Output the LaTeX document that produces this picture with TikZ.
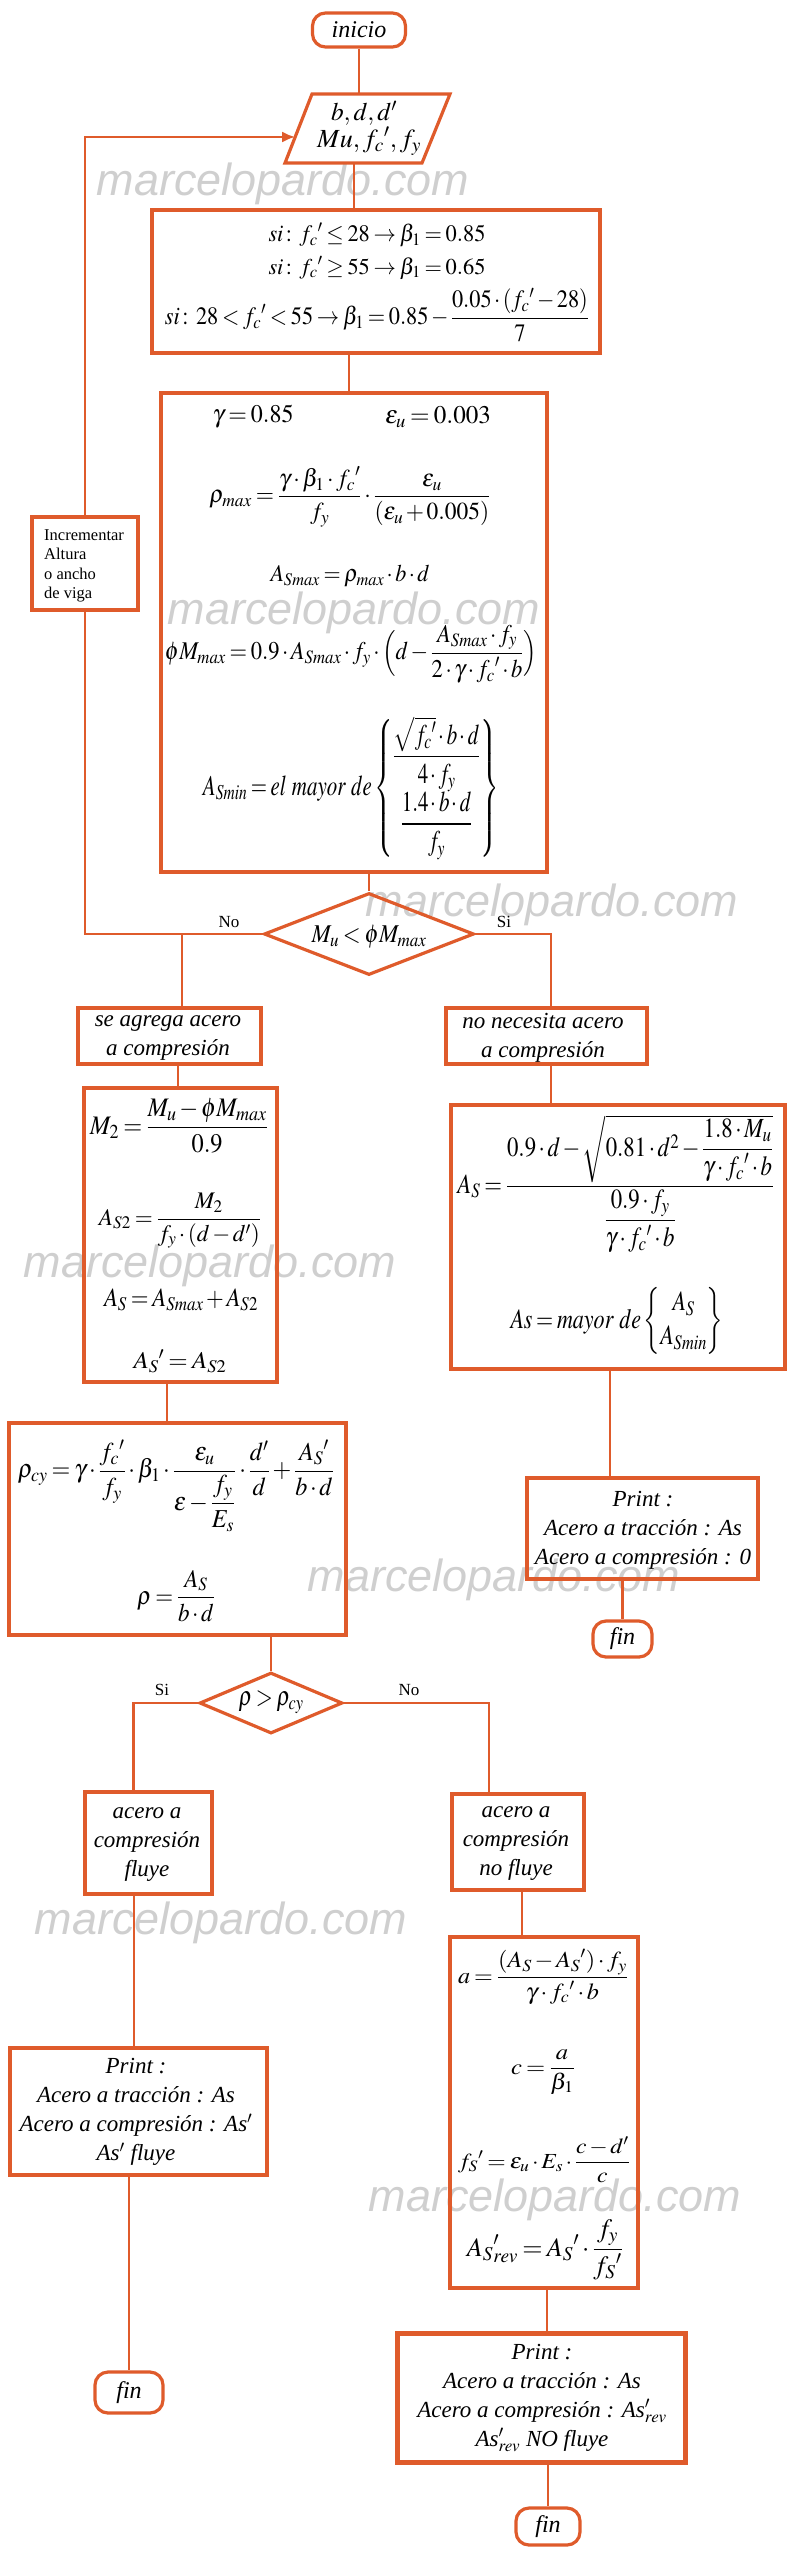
\documentclass[tikz,border=0pt]{standalone}
\usepackage{amsmath}
\usepackage{mathptmx}
\usepackage[no-math]{fontspec}
\setmainfont{Liberation Serif}
\newfontfamily\wmfont{Liberation Sans}
\usetikzlibrary{shapes.geometric,arrows.meta,calc}
\definecolor{orng}{RGB}{223,91,43}
\newcommand\fcp{{f_c}'}
\newcommand\Asp{{A_S}'}
\newcommand\fsp{{f_S}'}
\newcommand\fitf[3]{\resizebox*{#1pt}{#2pt}{#3}}
\tikzset{
  blk/.style={draw=orng, line width=3.2pt, rectangle, inner sep=0pt},
  term/.style={draw=orng, line width=3.2pt, rectangle, rounded corners=13pt, inner sep=0pt, font=\fontsize{24}{28}\selectfont\itshape},
  conn/.style={draw=orng, line width=2.7pt},
  cond/.style={diamond, draw=orng, line width=3.2pt, inner sep=1pt},
  pshape/.style={draw=orng, line width=3.2pt, line join=miter},
  fm/.style={inner sep=0pt},
  tx/.style={inner sep=0pt, align=center, font=\fontsize{23}{29}\selectfont\itshape},
  inct/.style={inner sep=0pt, align=left, font=\fontsize{16.5}{19.5}\selectfont},
  lbl/.style={inner sep=0pt, font=\fontsize{17}{20}\selectfont},
  wm/.style={inner sep=0pt, text=black!19, font=\wmfont\itshape\fontsize{45}{50}\selectfont},
}
\begin{document}
\begin{tikzpicture}[x=1pt,y=-1pt]
\useasboundingbox (0,0) rectangle (794,2560);
\fontsize{23}{28}\selectfont
\thinmuskip=2mu \medmuskip=2mu plus 1mu \thickmuskip=3mu plus 1mu
% watermarks
\node[wm] (wm1) at (283,184) {marcelopardo.com};
\node[wm] (wm2) at (354,613) {marcelopardo.com};
\node[wm] (wm3) at (552,905) {marcelopardo.com};
\node[wm] (wm4) at (210,1266) {marcelopardo.com};
\node[wm] (wm5) at (494,1580) {marcelopardo.com};
\node[wm] (wm6) at (221,1923) {marcelopardo.com};
\node[wm] (wm7) at (555,2200) {marcelopardo.com};
% start and input
\node[term, minimum width=93pt, minimum height=34pt] (start) at (359,30) {inicio};
\coordinate (pTL) at (312,94);
\coordinate (pTR) at (450,94);
\coordinate (pBR) at (422,163);
\coordinate (pBL) at (285,163);
\draw[pshape] (pTL) -- (pTR) -- (pBR) -- (pBL) -- cycle;
\node[fm, minimum width=100pt, minimum height=69pt] (par) at (367,128.5) {};
\node[fm] (parA) at (364,113) {\resizebox{66pt}{!}{$b,d,d'$}};
\node[fm] (parB) at (369,141) {\resizebox{104pt}{!}{$Mu,\fcp,f_y$}};
% beta box
\node[blk, minimum width=448pt, minimum height=143pt] (b2) at (376,281.5) {};
\node[fm] (b2a) at (377,235) {\fitf{217}{24}{$si\colon\fcp\le28\rightarrow\beta_1=0.85$}};
\node[fm] (b2b) at (377,268) {\fitf{217}{23}{$si\colon\fcp\ge55\rightarrow\beta_1=0.65$}};
\node[fm] (b2c) at (377,315) {\fitf{424}{54}{$\displaystyle si\colon28<\fcp<55\rightarrow\beta_1=0.85-\frac{0.05\cdot(\fcp-28)}{7}$}};
% main box
\node[blk, minimum width=386pt, minimum height=479pt] (b3) at (354,632.5) {};
\node[fm] (g1) at (253,417) {\fitf{81}{23}{$\gamma=0.85$}};
\node[fm] (e1) at (438,417) {\fitf{106}{21}{$\varepsilon_u=0.003$}};
\node[fm] (rmax) at (350,497) {\fitf{281}{60}{$\displaystyle\rho_{max}=\frac{\gamma\cdot\beta_1\cdot\fcp}{f_y}\cdot\frac{\varepsilon_u}{(\varepsilon_u+0.005)}$}};
\node[fm] (asmax) at (350,576) {\fitf{159}{22}{$A_{Smax}=\rho_{max}\cdot b\cdot d$}};
\node[fm] (pmmax) at (351,654) {\fitf{372}{58}{$\displaystyle\phi M_{max}=0.9\cdot A_{Smax}\cdot f_y\cdot\Bigl(d-\frac{A_{Smax}\cdot f_y}{2\cdot\gamma\cdot\fcp\cdot b}\Bigr)$}};
\node[fm] (asmin) at (351,788) {\fitf{296}{143}{$\displaystyle A_{Smin}=el\ mayor\ de\left\{\begin{matrix}\dfrac{\sqrt{\fcp}\cdot b\cdot d}{4\cdot f_y}\\[6pt]\dfrac{1.4\cdot b\cdot d}{f_y}\end{matrix}\right\}$}};
% decision 1
\node[cond, minimum width=210pt, minimum height=82pt] (d1) at (369,934) {};
\node[fm] (d1t) at (369,937) {\fitf{115}{23}{$M_u<\phi M_{max}$}};
\node[lbl] (no1) at (229,922) {No};
\node[lbl] (si1) at (504,922) {Si};
% increment box
\node[blk, minimum width=106pt, minimum height=93pt] (inc) at (85,563.5) {};
\node[inct, anchor=west] (inctx) at (44,566) {Incrementar\\Altura\\o ancho\\de viga};
% branch boxes
\node[blk, minimum width=183pt, minimum height=56pt] (sa) at (169.5,1036) {};
\node[tx] (sat) at (168,1038) {se agrega acero\\a compresión};
\node[blk, minimum width=201pt, minimum height=56pt] (nn) at (546.5,1036) {};
\node[tx] (nnt) at (543,1038) {no necesita acero\\a compresión};
% M2 box
\node[blk, minimum width=193pt, minimum height=294pt] (m2b) at (180.5,1235) {};
\node[fm] (m2f) at (179,1126) {\fitf{178}{55}{$\displaystyle M_2=\frac{M_u-\phi M_{max}}{0.9}$}};
\node[fm] (as2f) at (180,1221) {\fitf{162}{55}{$\displaystyle A_{S2}=\frac{M_2}{f_y\cdot(d-d')}$}};
\node[fm] (asf) at (181,1300) {\fitf{154}{22}{$A_S=A_{Smax}+A_{S2}$}};
\node[fm] (aspf) at (180,1361) {\fitf{93}{23}{$\Asp=A_{S2}$}};
% As box
\node[blk, minimum width=334pt, minimum height=264pt] (asb) at (618,1237) {};
\node[fm] (asr) at (616,1184) {\fitf{317}{138}{$\displaystyle A_S=\frac{0.9\cdot d-\sqrt{0.81\cdot d^2-\dfrac{1.8\cdot M_u}{\gamma\cdot\fcp\cdot b}}}{\dfrac{0.9\cdot f_y}{\gamma\cdot\fcp\cdot b}}$}};
\node[fm] (asm) at (617,1321) {\fitf{213}{68}{$\displaystyle As=mayor\ de\left\{\begin{matrix}A_S\\A_{Smin}\end{matrix}\right\}$}};
% rho box
\node[blk, minimum width=337pt, minimum height=212pt] (rhob) at (177.5,1529) {};
\node[fm] (rcy) at (176,1486) {\fitf{316}{92}{$\displaystyle\rho_{cy}=\gamma\cdot\frac{\fcp}{f_y}\cdot\beta_1\cdot\frac{\varepsilon_u}{\varepsilon-\dfrac{f_y}{E_s}}\cdot\frac{d'}{d}+\frac{\Asp}{b\cdot d}$}};
\node[fm] (rr) at (176,1596) {\fitf{78}{52}{$\displaystyle\rho=\frac{A_S}{b\cdot d}$}};
% decision 2
\node[cond, minimum width=143pt, minimum height=61pt] (d2) at (271,1703) {};
\node[fm] (d2t) at (271,1702) {\fitf{65}{23}{$\rho>\rho_{cy}$}};
\node[lbl] (si2) at (162,1690) {Si};
\node[lbl] (no2) at (409,1690) {No};
% flow boxes
\node[blk, minimum width=127pt, minimum height=102pt] (fl) at (148.5,1843) {};
\node[tx] (flt) at (147,1845) {acero a\\compresión\\fluye};
\node[blk, minimum width=132pt, minimum height=96pt] (nf) at (518,1842) {};
\node[tx] (nft) at (516,1844) {acero a\\compresión\\no fluye};
% print right
\node[blk, minimum width=231pt, minimum height=101pt] (prr) at (642.5,1528.5) {};
\node[tx] (prrt) at (643,1530) {Print :\\Acero a tracción : As\\Acero a compresión : 0};
\node[term, minimum width=59pt, minimum height=36pt] (finr) at (622.5,1639) {fin};
% print left
\node[blk, minimum width=257pt, minimum height=127pt] (pl) at (138.5,2111.5) {};
\node[tx] (plt) at (136,2112) {Print :\\Acero a tracción : As\\Acero a compresión : As$'$\\As$'$ fluye};
\node[term, minimum width=68pt, minimum height=41pt] (finl) at (129,2392.5) {fin};
% formula box
\node[blk, minimum width=188pt, minimum height=351pt] (fb) at (544,2112.5) {};
\node[fm] (f1) at (543,1977) {\fitf{170}{55}{$\displaystyle a=\frac{(A_S-\Asp)\cdot f_y}{\gamma\cdot\fcp\cdot b}$}};
\node[fm] (f2) at (543,2072) {\fitf{64}{45}{$\displaystyle c=\frac{a}{\beta_1}$}};
\node[fm] (f3) at (544,2160) {\fitf{172}{46}{$\displaystyle \fsp=\varepsilon_u\cdot E_s\cdot\frac{c-d'}{c}$}};
\node[fm] (f4) at (545,2250) {\fitf{156}{60}{$\displaystyle {A_S}'_{rev}=\Asp\cdot\frac{f_y}{\fsp}$}};
% print bottom right
\node[blk, line width=5pt, minimum width=288pt, minimum height=129pt] (pr) at (541,2397.5) {};
\node[tx] (prt) at (542,2398) {Print :\\Acero a tracción : As\\Acero a compresión : As$'_{rev}$\\As$'_{rev}$ NO fluye};
\node[term, minimum width=64pt, minimum height=37pt] (finR) at (548,2526.5) {fin};
% connectors
\coordinate (parin) at ($(pBL)!0.377!(pTL)$);
\draw[conn] (start.south) -- (start.south |- par.north);
\draw[conn] ([xshift=-13pt]par.south) -- ([xshift=-13pt]par.south |- b2.north);
\draw[conn] ([xshift=-27pt]b2.south) -- ([xshift=-27pt]b2.south |- b3.north);
\draw[conn] (d1.north |- b3.south) -- (d1.north);
\draw[conn] (d1.west) -- (d1.west -| inc.south) -- (inc.south);
\draw[conn, -{Latex[length=13pt,width=11pt]}] (inc.north) |- (parin);
\draw[conn] ([xshift=12.5pt]sa.north) |- (d1.west);
\draw[conn] (d1.east) -| ([xshift=4.5pt]nn.north);
\draw[conn] ([xshift=8.5pt]sa.south) -- ([xshift=8.5pt]sa.south |- m2b.north);
\draw[conn] ([xshift=4.5pt]nn.south) -- ([xshift=4.5pt]nn.south |- asb.north);
\draw[conn] ([xshift=-13.5pt]m2b.south) -- ([xshift=-13.5pt]m2b.south |- rhob.north);
\draw[conn] (d2.north |- rhob.south) -- (d2.north);
\draw[conn] (d2.west) -| ([xshift=-15pt]fl.north);
\draw[conn] (d2.east) -| ([xshift=-29pt]nf.north);
\draw[conn] ([xshift=-14.5pt]fl.south) -- ([xshift=-14.5pt]fl.south |- pl.north);
\draw[conn] (finl.north |- pl.south) -- (finl.north);
\draw[conn] ([xshift=4pt]nf.south) -- ([xshift=4pt]nf.south |- fb.north);
\draw[conn] ([xshift=3pt]fb.south) -- ([xshift=3pt]fb.south |- pr.north);
\draw[conn] (finR.north |- pr.south) -- (finR.north);
\draw[conn] ([xshift=-8pt]asb.south) -- ([xshift=-8pt]asb.south |- prr.north);
\draw[conn] (finr.north |- prr.south) -- (finr.north);
\end{tikzpicture}
\end{document}
